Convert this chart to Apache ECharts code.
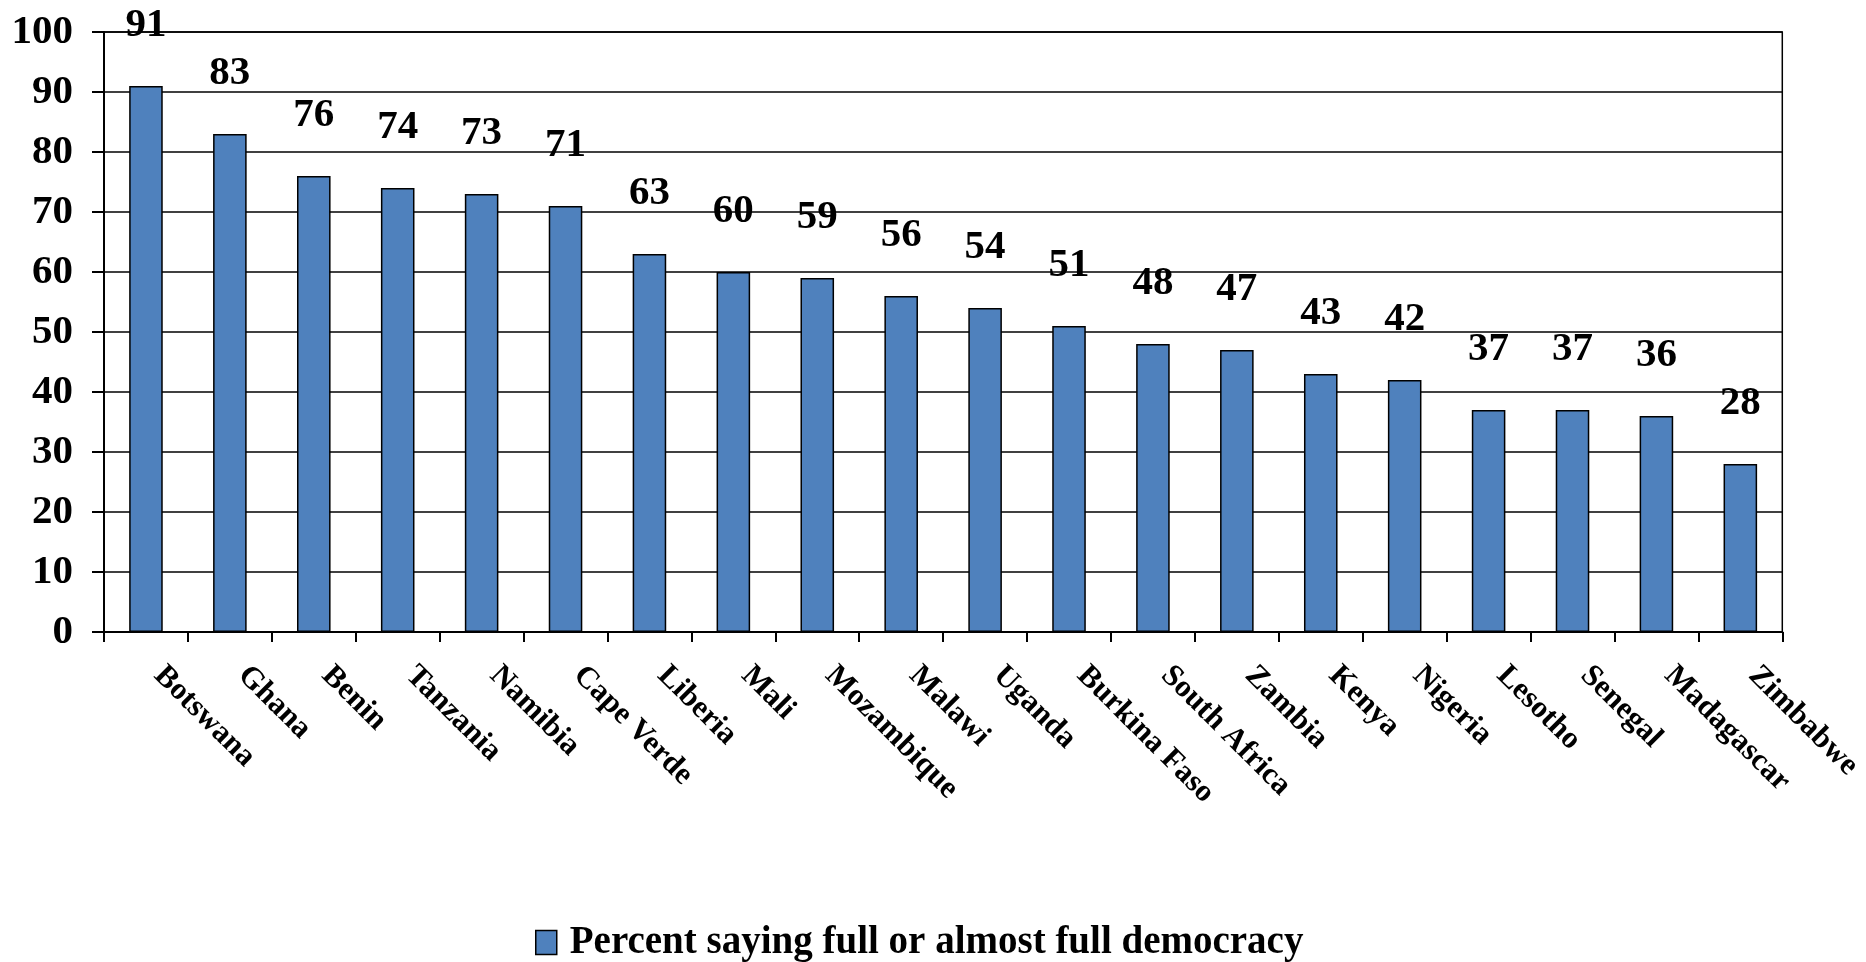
<!DOCTYPE html>
<html>
<head>
<meta charset="utf-8">
<script src="https://cdn.jsdelivr.net/npm/echarts@6/dist/echarts.min.js"></script>
<style>
  html, body { margin: 0; padding: 0; background: #ffffff; }
  #chart { width: 1866px; height: 962px; }
</style>
</head>
<body>
<div id="chart"></div>
<script>
// Countries, ordered from highest to lowest share
const countries = ['Botswana', 'Ghana', 'Benin', 'Tanzania', 'Namibia', 'Cape Verde', 'Liberia', 'Mali',
  'Mozambique', 'Malawi', 'Uganda', 'Burkina Faso', 'South Africa', 'Zambia', 'Kenya', 'Nigeria',
  'Lesotho', 'Senegal', 'Madagascar', 'Zimbabwe'];
// Percent saying full or almost full democracy
const percentFullDemocracy = [91, 83, 76, 74, 73, 71, 63, 60, 59, 56, 54, 51, 48, 47, 43, 42, 37, 37, 36, 28];
const seriesName = 'Percent saying full or almost full democracy';
const yTicks = { min: 0, max: 100, interval: 10 };

const FONT = '"Liberation Serif", "Times New Roman", serif';

const chart = echarts.init(document.getElementById('chart'), null, { renderer: 'canvas' });
chart.setOption({
  animation: false,
  backgroundColor: '#ffffff',
  textStyle: { fontFamily: FONT, fontWeight: 'bold', color: '#000' },
  grid: {
    left: 104, right: 83, top: 32, bottom: 330,
    show: true, borderColor: '#000', borderWidth: 1.5, backgroundColor: 'transparent'
  },
  legend: {
    bottom: -5,
    left: 530,
    itemWidth: 21,
    itemHeight: 24,
    itemGap: 10,
    icon: 'rect',
    itemStyle: { color: '#4F81BD', borderColor: '#000', borderWidth: 1.5 },
    textStyle: { fontFamily: FONT, fontWeight: 'bold', fontSize: 39, color: '#000', padding: [0, 0, 0, 8] },
    data: [seriesName]
  },
  xAxis: {
    type: 'category',
    data: countries,
    axisLine: { lineStyle: { color: '#000', width: 2 } },
    axisTick: { show: true, length: 10, lineStyle: { color: '#000', width: 2 } },
    axisLabel: {
      rotate: -45,
      margin: 26,
      padding: [0, 0, 0, 18],
      interval: 0,
      fontFamily: FONT,
      fontWeight: 'bold',
      fontSize: 31,
      color: '#000'
    }
  },
  yAxis: {
    type: 'value',
    min: yTicks.min,
    max: yTicks.max,
    interval: yTicks.interval,
    axisLine: { show: true, lineStyle: { color: '#000', width: 2 } },
    axisTick: { show: true, length: 12, lineStyle: { color: '#000', width: 2 } },
    splitLine: { show: true, lineStyle: { color: '#000', width: 1.5 } },
    axisLabel: {
      margin: 31,
      fontFamily: FONT,
      fontWeight: 'bold',
      fontSize: 41,
      color: '#000'
    }
  },
  series: [{
    name: seriesName,
    type: 'bar',
    data: percentFullDemocracy,
    barWidth: '40%',
    itemStyle: { color: '#4F81BD', borderColor: '#000', borderWidth: 1.5 },
    label: {
      show: true,
      position: 'top',
      distance: 40,
      fontFamily: FONT,
      fontWeight: 'bold',
      fontSize: 41,
      color: '#000'
    }
  }]
});
</script>
</body>
</html>
